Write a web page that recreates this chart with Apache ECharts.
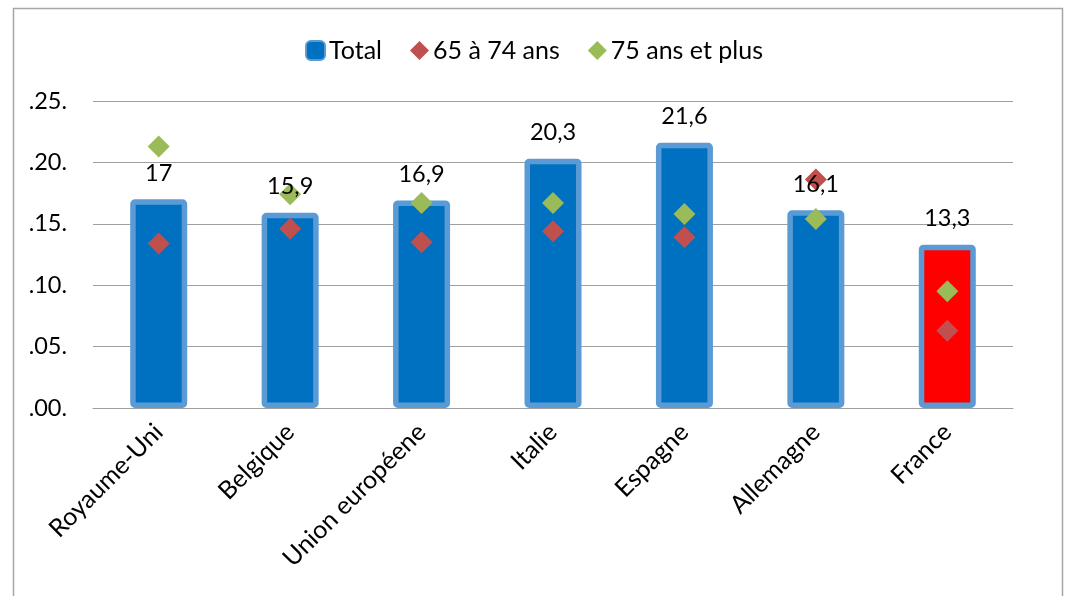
<!DOCTYPE html>
<html>
<head>
<meta charset="utf-8">
<style>
  html, body { margin: 0; padding: 0; background: #fff; }
  #chart { width: 1068px; height: 596px; }
</style>
<script src="https://cdn.jsdelivr.net/npm/echarts@6/dist/echarts.min.js"></script>
</head>
<body>
<div id="chart"></div>
<script>
// pays
var categories = ['Royaume-Uni', 'Belgique', 'Union européene', 'Italie', 'Espagne', 'Allemagne', 'France'];
// taux total
var total = [17, 15.9, 16.9, 20.3, 21.6, 16.1, 13.3];
// 65 à 74 ans
var age65_74 = [13.4, 14.6, 13.5, 14.4, 13.9, 18.6, 6.3];
// 75 ans et plus
var age75plus = [21.3, 17.4, 16.7, 16.7, 15.8, 15.4, 9.5];
// libellés de l'axe
var yTickLabels = ['.00.', '.05.', '.10.', '.15.', '.20.', '.25.'];

var FONT = 'Lato';
var chart = echarts.init(document.getElementById('chart'));

// France en rouge
var totalData = total.map(function (v, i) {
  if (categories[i] === 'France') {
    return { value: v, itemStyle: { color: '#FF0000' } };
  }
  return v;
});

var option = {
  animation: false,
  textStyle: { fontFamily: FONT },
  graphic: [{
    type: 'rect',
    shape: { x: 13.5, y: 8.5, width: 1049, height: 620 },
    style: { fill: 'none', stroke: '#A6A6A6', lineWidth: 1.5 },
    silent: true
  }],
  legend: {
    top: 33,
    left: 'center',
    itemWidth: 19,
    itemHeight: 19,
    itemGap: 28,
    data: ['Total', '65 à 74 ans', '75 ans et plus'],
    textStyle: { fontFamily: FONT, fontSize: 25, color: '#000', padding: [0, 0, 0, -1] }
  },
  grid: { left: 93, right: 55, top: 101, bottom: 188, containLabel: false },
  xAxis: {
    type: 'category',
    data: categories,
    axisTick: { show: false },
    axisLine: { lineStyle: { color: '#A0A0A0', width: 1 } },
    axisLabel: {
      rotate: 45,
      margin: 20,
      interval: 0,
      fontFamily: FONT,
      fontSize: 25,
      color: '#000'
    }
  },
  yAxis: {
    type: 'value',
    min: 0,
    max: 25,
    interval: 5,
    axisLine: { show: false },
    axisTick: { show: false },
    splitLine: { lineStyle: { color: '#A0A0A0', width: 1 } },
    axisLabel: {
      margin: 26,
      fontFamily: FONT,
      fontSize: 23.5,
      color: '#000',
      formatter: function (v) { return yTickLabels[Math.round(v / 5)]; }
    }
  },
  series: [
    {
      name: 'Total',
      type: 'bar',
      data: totalData,
      barWidth: 57,
      barGap: '-100%',
      z: 2,
      itemStyle: { color: '#0070C0', borderColor: '#5B9BD5', borderWidth: 5.5, borderRadius: 2 }
    },
    {
      name: '65 à 74 ans',
      type: 'scatter',
      data: age65_74,
      symbol: 'diamond',
      symbolSize: 22,
      z: 3,
      itemStyle: { color: '#C0504D', opacity: 1 }
    },
    {
      name: '75 ans et plus',
      type: 'scatter',
      data: age75plus,
      symbol: 'diamond',
      symbolSize: 22,
      z: 3,
      itemStyle: { color: '#9BBB59', opacity: 1 }
    },
    {
      // étiquettes des totaux, au-dessus des losanges
      name: 'labels',
      type: 'bar',
      data: total,
      barWidth: 57,
      barGap: '-100%',
      z: 5,
      silent: true,
      itemStyle: { color: 'rgba(0,0,0,0)' },
      label: {
        show: true,
        position: 'top',
        distance: 14,
        fontFamily: FONT,
        fontSize: 23.5,
        color: '#000',
        formatter: function (p) { return String(p.value).replace('.', ','); }
      }
    }
  ]
};

chart.setOption(option);
window.onresize = function () { chart.resize(); };
</script>
</body>
</html>
